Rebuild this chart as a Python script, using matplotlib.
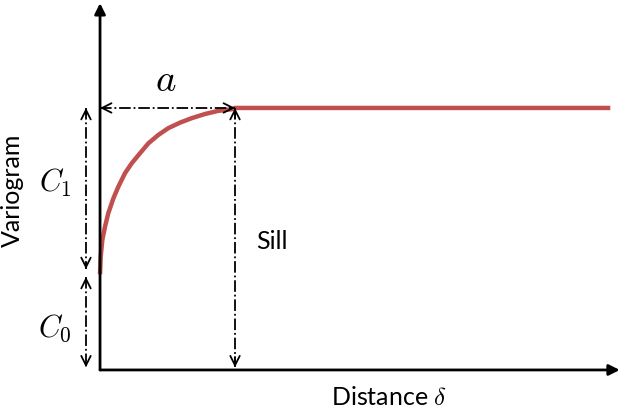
import matplotlib
matplotlib.use("Agg")
import matplotlib.pyplot as plt

plt.rcParams['font.family'] = ['Lato', 'DejaVu Sans']
plt.rcParams['mathtext.fontset'] = 'cm'

# variogram curve (distance in units of range a)
distance = [0.0, 0.005, 0.017, 0.037, 0.061, 0.099, 0.136, 0.185, 0.235, 0.296,
            0.358, 0.432, 0.506, 0.593, 0.679, 0.778, 0.876, 0.976, 1.0, 3.78]
gamma = [0.365, 0.432, 0.496, 0.547, 0.598, 0.655, 0.70, 0.751, 0.789, 0.827,
         0.865, 0.897, 0.923, 0.944, 0.961, 0.977, 0.989, 0.995, 1.0, 1.0]

nugget = 0.37      # C0
sill = 1.0         # C0 + C1
range_a = 1.0      # a
x_max = 3.85
y_max = 1.40

labels = {"a": r"$a$", "c1": r"$C_1$", "c0": r"$C_0$", "sill": "Sill"}


def dim_arrow(ax, x0, y0, x1, y1):
    # dash-dot line with open heads at both ends
    ax.plot([x0, x1], [y0, y1], ls='-.', color='black', lw=1.3)
    dx, dy = (x1 - x0) * 0.04, (y1 - y0) * 0.04
    for (xa, ya), (xb, yb) in [((x1, y1), (x1 - dx, y1 - dy)), ((x0, y0), (x0 + dx, y0 + dy))]:
        ax.annotate('', xy=(xa, ya), xytext=(xb, yb),
                    arrowprops=dict(arrowstyle='->', lw=1.3, color='black',
                                    mutation_scale=17, shrinkA=0, shrinkB=0))


fig = plt.figure(figsize=(6.4, 4.09), dpi=100)
ax = fig.add_axes([0, 0, 1, 1])
ax.set_xlim(-0.741, 4.0)
ax.set_ylim(-0.149, 1.412)
ax.axis('off')

# axes with filled arrow heads
ax.annotate('', xy=(0, y_max), xytext=(0, 0),
            arrowprops=dict(arrowstyle='-|>', lw=2, color='black', mutation_scale=16,
                            shrinkA=0, shrinkB=0))
ax.annotate('', xy=(x_max, 0), xytext=(0, 0),
            arrowprops=dict(arrowstyle='-|>', lw=2, color='black', mutation_scale=16,
                            shrinkA=0, shrinkB=0))

# variogram curve
ax.plot(distance, gamma, color='#C0504D', lw=3.2, solid_capstyle='butt',
        solid_joinstyle='round')

# dimension arrows
dim_arrow(ax, 0, sill, range_a, sill)
dim_arrow(ax, range_a, sill, range_a, 0.01)
dim_arrow(ax, -0.104, sill, -0.104, nugget + 0.015)
dim_arrow(ax, -0.104, nugget - 0.015, -0.104, 0.01)

# labels
ax.text(0.49, 1.105, labels["a"], fontsize=28, ha='center', va='center')
ax.text(-0.333, 0.714, labels["c1"], fontsize=22, ha='center', va='center')
ax.text(-0.333, 0.16, labels["c0"], fontsize=22, ha='center', va='center')
ax.text(1.27, 0.49, labels["sill"], fontsize=18, ha='center', va='center')
ax.text(2.14, -0.105, r"Distance $\delta$", fontsize=18, ha='center', va='center')
ax.text(-0.652, 0.687, "Variogram", fontsize=18, rotation=90, ha='center', va='center')

fig.savefig("out.png", dpi=100)
